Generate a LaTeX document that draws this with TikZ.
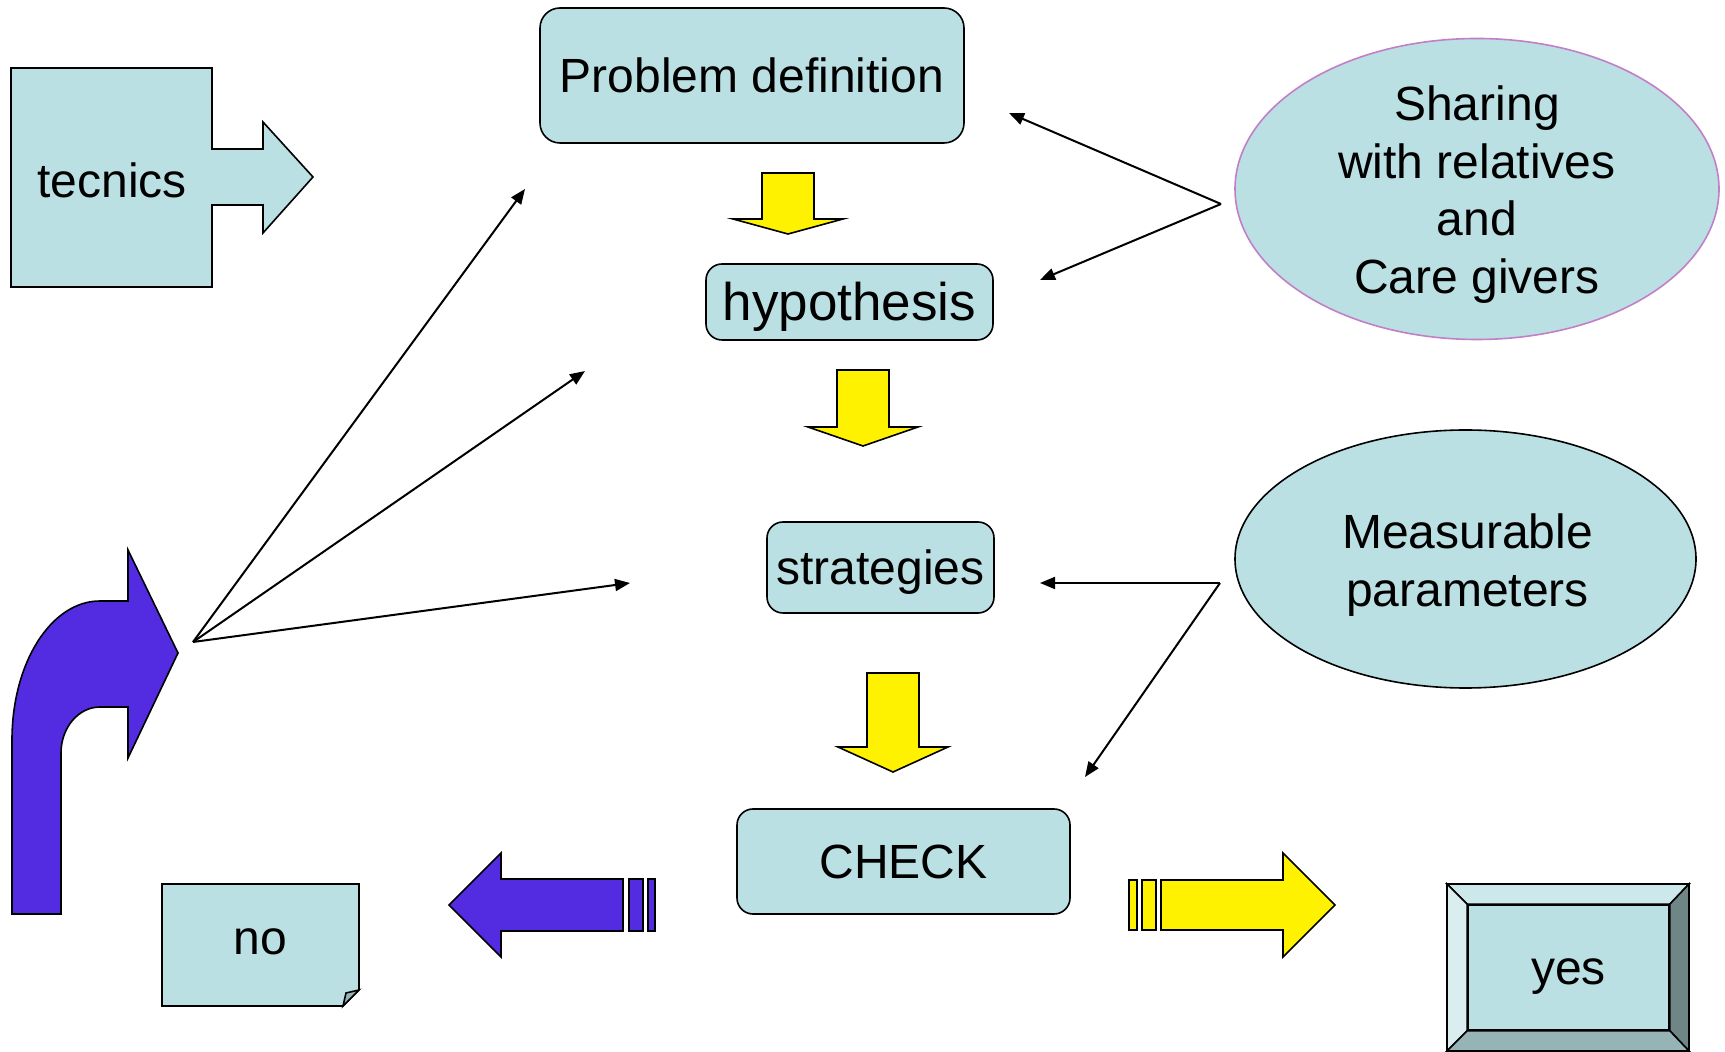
\documentclass[tikz,border=0pt]{standalone}
\usepackage{fontspec}
\setmainfont{Liberation Sans}
\usetikzlibrary{arrows.meta,shapes.geometric}
\definecolor{boxblue}{HTML}{BAE0E3}
\definecolor{loopblue}{HTML}{532BE0}
\definecolor{shareedge}{HTML}{C27FC8}
\definecolor{beveltop}{HTML}{CDE8EA}
\definecolor{bevelleft}{HTML}{DAEEF0}
\definecolor{bevelright}{HTML}{6F8687}
\definecolor{bevelbottom}{HTML}{96B3B5}
\begin{document}
\begin{tikzpicture}[x=0.5pt,y=-0.5pt,
    txt/.style={font=\fontsize{24}{28.8}\selectfont},
    stepbox/.style={txt, draw, line width=0.8pt, fill=boxblue, rounded corners=8pt,
      inner sep=0pt, text height=17.2pt, text depth=0pt},
    bubble/.style={ellipse, draw, line width=0.8pt, fill=boxblue, inner sep=0pt},
    conn/.style={-{Triangle[length=7.5pt,width=6pt]}, line width=1pt},
    fatarrow/.style={draw, line width=0.8pt, line join=miter}]

    % Cadre
    \useasboundingbox (0,0) rectangle (1725,1052);

    % Callout tecnics
    \draw[fatarrow, fill=boxblue] (11,68) -- (212,68) -- (212,149) -- (263,149) -- (263,122)
      -- (313,177) -- (263,233) -- (263,205) -- (212,205) -- (212,287) -- (11,287) -- cycle;
    \node[txt] (tecnics) at (112,180) {tecnics};

    % Steps
    \node[stepbox, minimum width=212pt, minimum height=67.5pt, rounded corners=10pt] (prob) at (752,75.5) {Problem definition};
    \node[stepbox, minimum width=143.5pt, minimum height=38pt, font=\fontsize{26.5}{32}\selectfont,
      text height=19pt] (hyp) at (849.5,302) {hypothesis};
    \node[stepbox, minimum width=113.5pt, minimum height=45.5pt] (strat) at (880.5,567.5) {strategies};
    \node[stepbox, minimum width=166.5pt, minimum height=52.5pt] (check) at (903.5,861.5) {CHECK};

    % Yellow arrows between steps
    \foreach \cx/\yt/\yb/\yp in {788/173/219/234, 863/370/427/446, 893/673/747/772}
      \draw[fatarrow, fill=yellow] (\cx-26,\yt) -- (\cx+26,\yt) -- (\cx+26,\yb) -- (\cx+55,\yb)
        -- (\cx,\yp) -- (\cx-55,\yb) -- (\cx-26,\yb) -- cycle;

    % Bubbles
    \node[bubble, draw=shareedge, minimum width=242pt, minimum height=150.5pt] (share) at (1477,189) {};
    \node[txt, align=center] (shareText) at ([yshift=-2.8pt]share.center) {Sharing\\with relatives\\and\\Care givers};
    \node[bubble, minimum width=230.5pt, minimum height=129pt] (meas) at (1465.5,559) {};
    \node[txt, align=center] (measText) at ([xshift=1pt, yshift=-3pt]meas.center) {Measurable\\parameters};

    % Connector ends
    \coordinate (shareFork) at (1221,204);
    \coordinate (probIn) at (1009,113);
    \coordinate (hypIn) at (1040,280);
    \coordinate (measFork) at (1220,583);
    \coordinate (stratIn) at (1040,583);
    \coordinate (checkIn) at (1085,777);
    \coordinate (loopFork) at (193,642);
    \coordinate (loopProb) at (525,189);
    \coordinate (loopHyp) at (585,371);
    \coordinate (loopStrat) at (630,583);

    % Connectors
    \draw[conn] (shareFork) -- (probIn);
    \draw[conn] (shareFork) -- (hypIn);
    \draw[conn] (measFork) -- (stratIn);
    \draw[conn] (measFork) -- (checkIn);
    \draw[conn] (loopFork) -- (loopProb);
    \draw[conn] (loopFork) -- (loopHyp);
    \draw[conn] (loopFork) -- (loopStrat);

    % Bent loop arrow
    \draw[fatarrow, fill=loopblue] (12,914) -- (12,740) .. controls (12,663) and (51,601) .. (100,601)
      -- (128,601) -- (128,550) -- (178,653) -- (128,758) -- (128,707) -- (100,707)
      .. controls (78.5,707) and (61,727.6) .. (61,753) -- (61,914) -- cycle;

    % no (folded note)
    \draw[fatarrow, fill=boxblue] (162,884) -- (359,884) -- (359,990) -- (343,1006) -- (162,1006) -- cycle;
    \draw[fatarrow, fill=bevelbottom] (359,990) -- (346,993) -- (343,1006) -- cycle;
    \node[txt] (no) at (260.5,942) {no};

    % Striped arrows out of CHECK
    \draw[fatarrow, fill=loopblue] (449,905) -- (501,853) -- (501,879) -- (623,879) -- (623,931)
      -- (501,931) -- (501,957) -- cycle;
    \draw[fatarrow, fill=loopblue] (629,879) rectangle (643,931);
    \draw[fatarrow, fill=loopblue] (648,879) rectangle (655,931);
    \draw[fatarrow, fill=yellow] (1335,905) -- (1283,853) -- (1283,880) -- (1161,880) -- (1161,930)
      -- (1283,930) -- (1283,957) -- cycle;
    \draw[fatarrow, fill=yellow] (1142,880) rectangle (1156,930);
    \draw[fatarrow, fill=yellow] (1129,880) rectangle (1137,930);

    % yes (bevel)
    \node[txt, draw, line width=0.8pt, fill=boxblue, inner sep=0pt, minimum width=100.5pt,
      minimum height=62.5pt, text height=17.2pt, text depth=0pt] (yes) at (1568.5,967.5) {yes};
    \draw[fatarrow, fill=beveltop] (1447,884) -- (1689,884) -- (yes.north east) -- (yes.north west) -- cycle;
    \draw[fatarrow, fill=bevelleft] (1447,884) -- (yes.north west) -- (yes.south west) -- (1447,1051) -- cycle;
    \draw[fatarrow, fill=bevelright] (1689,884) -- (1689,1051) -- (yes.south east) -- (yes.north east) -- cycle;
    \draw[fatarrow, fill=bevelbottom] (1447,1051) -- (yes.south west) -- (yes.south east) -- (1689,1051) -- cycle;

\end{tikzpicture}
\end{document}
